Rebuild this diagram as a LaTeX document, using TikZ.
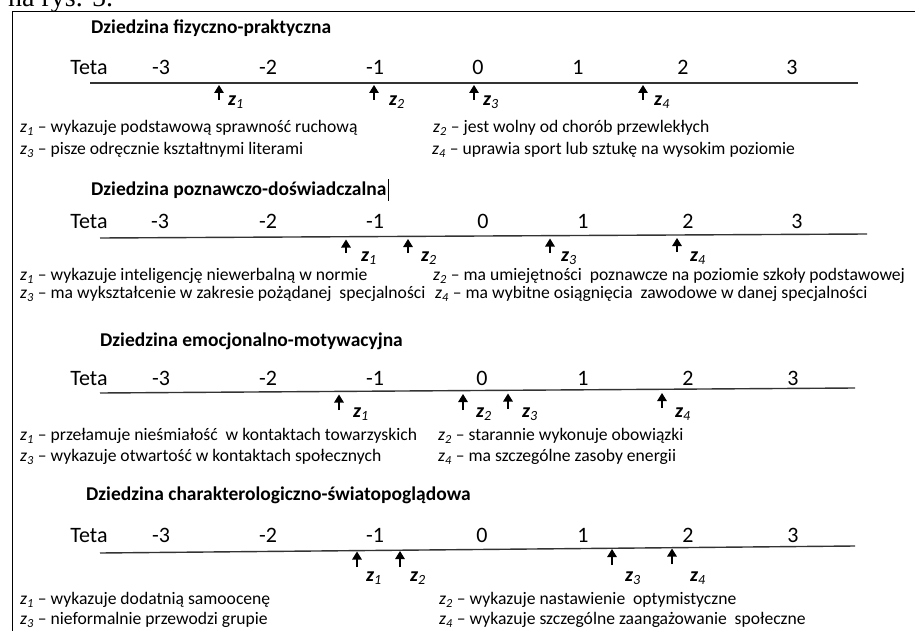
\documentclass[tikz,border=0pt]{standalone}
\usepackage{fontspec}
\setmainfont{Carlito}
\newfontfamily\serifnote{Liberation Serif}
\usetikzlibrary{arrows.meta}

\newcommand{\zz}[1]{\textit{z}\textsubscript{\textit{#1}}}
\newcommand{\zb}[1]{\textbf{\textit{z}}\textsubscript{\textit{#1}}}

\begin{document}
\begin{tikzpicture}[x=1pt,y=-1pt,
  ttl/.style={anchor=west, inner sep=0pt, font=\fontsize{19.5}{22}\selectfont\bfseries},
  tick/.style={anchor=base, inner sep=0pt, font=\fontsize{22}{25}\selectfont},
  desc/.style={anchor=west, inner sep=0pt, font=\fontsize{17.6}{20}\selectfont},
  zlab/.style={inner sep=0pt, font=\fontsize{20}{22}\selectfont},
  axis/.style={line width=1.4pt, draw=black!80},
  zarr/.style={line width=1.3pt, -{Triangle[length=8pt,width=9.5pt]}}]
\useasboundingbox (0,0) rectangle (915,631);
\node[anchor=base west, inner sep=0pt, font=\fontsize{28}{30}\selectfont\serifnote] (note) at (8,7) {na rys. 5.};
\draw[line width=1pt] (915,12) -- (12,12) -- (12,640);

% Dziedzina fizyczno-praktyczna
\node[ttl] (t1) at (91,28) {Dziedzina fizyczno-praktyczna};
\node[tick] (teta1) at (89,75) {Teta};
\node[tick] (a1m3) at (161,75) {-3};
\node[tick] (a1m2) at (268,75) {-2};
\node[tick] (a1m1) at (375,75) {-1};
\node[tick] (a1p0) at (478,75) {0};
\node[tick] (a1p1) at (578,75) {1};
\node[tick] (a1p2) at (683,75) {2};
\node[tick] (a1p3) at (792,75) {3};
\coordinate (l1) at (90,83);
\coordinate (r1) at (858,83);
\draw[axis] (l1) -- (r1);
\coordinate (h11) at (219,85); \coordinate (b11) at (219,100);
\coordinate (h12) at (374,85); \coordinate (b12) at (374,100);
\coordinate (h13) at (474,85); \coordinate (b13) at (474,100);
\coordinate (h14) at (643,85); \coordinate (b14) at (643,100);
\draw[zarr] (b11) -- (h11);
\draw[zarr] (b12) -- (h12);
\draw[zarr] (b13) -- (h13);
\draw[zarr] (b14) -- (h14);
\node[zlab] (z11) at (236,102) {\zb{1}};
\node[zlab] (z12) at (397,102) {\zb{2}};
\node[zlab] (z13) at (491,102) {\zb{3}};
\node[zlab] (z14) at (662,102) {\zb{4}};
\node[desc] (d11) at (20,128) {\zz{1} – wykazuje podstawową sprawność ruchową};
\node[desc] (d12) at (433,128) {\zz{2} – jest wolny od chorób przewlekłych};
\node[desc] (d13) at (20,150) {\zz{3} – pisze odręcznie kształtnymi literami};
\node[desc] (d14) at (432,150) {\zz{4} – uprawia sport lub sztukę na wysokim poziomie};

% Dziedzina poznawczo-doswiadczalna
\node[ttl] (t2) at (91,190) {Dziedzina poznawczo-doświadczalna};
\draw[line width=0.8pt] ([xshift=1.5pt,yshift=-11pt]t2.east) -- ([xshift=1.5pt,yshift=11pt]t2.east);
\node[tick] (teta2) at (89,228) {Teta};
\node[tick] (a2m3) at (160,228) {-3};
\node[tick] (a2m2) at (268,228) {-2};
\node[tick] (a2m1) at (375,228) {-1};
\node[tick] (a2p0) at (483,228) {0};
\node[tick] (a2p1) at (583,228) {1};
\node[tick] (a2p2) at (688,228) {2};
\node[tick] (a2p3) at (797,228) {3};
\coordinate (l2) at (100,238);
\coordinate (r2) at (867,234);
\draw[axis] (l2) -- (r2);
\coordinate (h21) at (346,239.5); \coordinate (b21) at (346,253);
\coordinate (h22) at (408,239); \coordinate (b22) at (408,253);
\coordinate (h23) at (550,238.5); \coordinate (b23) at (550,253);
\coordinate (h24) at (677,238); \coordinate (b24) at (677,252);
\draw[zarr] (b21) -- (h21);
\draw[zarr] (b22) -- (h22);
\draw[zarr] (b23) -- (h23);
\draw[zarr] (b24) -- (h24);
\node[zlab] (z21) at (369,258) {\zb{1}};
\node[zlab] (z22) at (429,258) {\zb{2}};
\node[zlab] (z23) at (569,258) {\zb{3}};
\node[zlab] (z24) at (698,258) {\zb{4}};
\node[desc] (d21) at (20,276) {\zz{1} – wykazuje inteligencję niewerbalną w normie};
\node[desc] (d22) at (433,276) {\zz{2} – ma umiejętności\ \ poznawcze na poziomie szkoły podstawowej};
\node[desc] (d23) at (20,294) {\zz{3} – ma wykształcenie w zakresie pożądanej\ \ specjalności};
\node[desc] (d24) at (435,294) {\zz{4} – ma wybitne osiągnięcia\ \ zawodowe w danej specjalności};

% Dziedzina emocjonalno-motywacyjna
\node[ttl] (t3) at (100,341) {Dziedzina emocjonalno-motywacyjna};
\node[tick] (teta3) at (89,385) {Teta};
\node[tick] (a3m3) at (161,385) {-3};
\node[tick] (a3m2) at (268,385) {-2};
\node[tick] (a3m1) at (375,385) {-1};
\node[tick] (a3p0) at (482,385) {0};
\node[tick] (a3p1) at (583,385) {1};
\node[tick] (a3p2) at (688,385) {2};
\node[tick] (a3p3) at (793,385) {3};
\coordinate (l3) at (100,393);
\coordinate (r3) at (855,388);
\draw[axis] (l3) -- (r3);
\coordinate (h31) at (339,394.5); \coordinate (b31) at (339,410);
\coordinate (h32) at (463,394); \coordinate (b32) at (463,410);
\coordinate (h33) at (508,393.5); \coordinate (b33) at (508,409);
\coordinate (h34) at (662,393); \coordinate (b34) at (662,408);
\draw[zarr] (b31) -- (h31);
\draw[zarr] (b32) -- (h32);
\draw[zarr] (b33) -- (h33);
\draw[zarr] (b34) -- (h34);
\node[zlab] (z31) at (361,414) {\zb{1}};
\node[zlab] (z32) at (484,414) {\zb{2}};
\node[zlab] (z33) at (530,414) {\zb{3}};
\node[zlab] (z34) at (683,414) {\zb{4}};
\node[desc] (d31) at (20,436) {\zz{1} – przełamuje nieśmiałość\ \ w kontaktach towarzyskich};
\node[desc] (d32) at (438,436) {\zz{2} – starannie wykonuje obowiązki};
\node[desc] (d33) at (20,457) {\zz{3} – wykazuje otwartość w kontaktach społecznych};
\node[desc] (d34) at (438,457) {\zz{4} – ma szczególne zasoby energii};

% Dziedzina charakterologiczno-swiatopogladowa
\node[ttl] (t4) at (86,495) {Dziedzina charakterologiczno-światopoglądowa};
\node[tick] (teta4) at (89,542) {Teta};
\node[tick] (a4m3) at (161,542) {-3};
\node[tick] (a4m2) at (268,542) {-2};
\node[tick] (a4m1) at (375,542) {-1};
\node[tick] (a4p0) at (482,542) {0};
\node[tick] (a4p1) at (583,542) {1};
\node[tick] (a4p2) at (688,542) {2};
\node[tick] (a4p3) at (793,542) {3};
\coordinate (l4) at (100,553);
\coordinate (r4) at (855,546);
\draw[axis] (l4) -- (r4);
\coordinate (h41) at (357,551.5); \coordinate (b41) at (357,567);
\coordinate (h42) at (400,551); \coordinate (b42) at (400,567);
\coordinate (h43) at (612,549); \coordinate (b43) at (612,565);
\coordinate (h44) at (672,548.5); \coordinate (b44) at (672,564);
\draw[zarr] (b41) -- (h41);
\draw[zarr] (b42) -- (h42);
\draw[zarr] (b43) -- (h43);
\draw[zarr] (b44) -- (h44);
\node[zlab] (z41) at (374,578) {\zb{1}};
\node[zlab] (z42) at (418,578) {\zb{2}};
\node[zlab] (z43) at (633,578) {\zb{3}};
\node[zlab] (z44) at (698,578) {\zb{4}};
\node[desc] (d41) at (20,600) {\zz{1} – wykazuje dodatnią samoocenę};
\node[desc] (d42) at (439,600) {\zz{2} – wykazuje nastawienie\ \ optymistyczne};
\node[desc] (d43) at (20,620) {\zz{3} – nieformalnie przewodzi grupie};
\node[desc] (d44) at (439,620) {\zz{4} – wykazuje szczególne zaangażowanie\ \ społeczne};
\end{tikzpicture}
\end{document}
